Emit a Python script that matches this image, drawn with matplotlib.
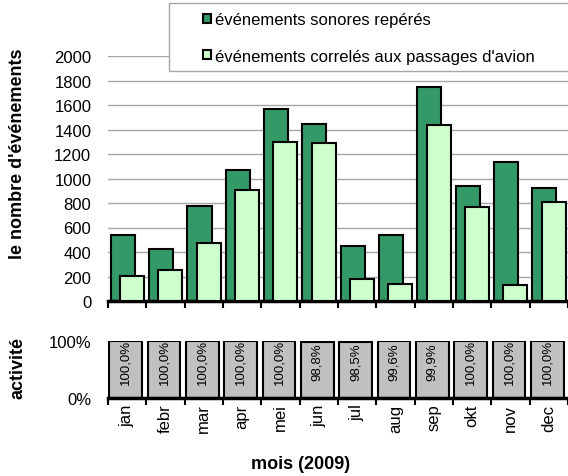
import numpy as np
import matplotlib
matplotlib.use('Agg')
from matplotlib import pyplot as plt
from matplotlib.patches import Rectangle

plt.rcParams['font.family'] = ['Liberation Sans', 'DejaVu Sans']

mois = ['jan', 'febr', 'mar', 'apr', 'mei', 'jun', 'jul', 'aug', 'sep', 'okt', 'nov', 'dec']
sonores = [535, 426, 779, 1072, 1566, 1447, 448, 535, 1751, 942, 1132, 920]
correles = [204, 252, 475, 909, 1297, 1289, 177, 141, 1436, 768, 133, 812]
activite = [100.0, 100.0, 100.0, 100.0, 100.0, 98.8, 98.5, 99.6, 99.9, 100.0, 100.0, 100.0]

W, H = 568, 477
fig = plt.figure(figsize=(W / 100, H / 100), dpi=100)

ax1 = fig.add_axes([108 / W, 1 - 302 / H, 460 / W, 245 / H])
ax2 = fig.add_axes([108 / W, 1 - 399 / H, 460 / W, 57 / H])

x = np.arange(len(mois))

# top chart
ax1.bar(x - 0.115, sonores, width=0.63, color='#339966', edgecolor='black', linewidth=1.5, zorder=2)
ax1.bar(x + 0.125, correles, width=0.63, color='#ccffcc', edgecolor='black', linewidth=1.5, zorder=3)
ax1.set_xlim(-0.5, 11.5)
ax1.set_ylim(0, 2000)
ax1.set_yticks(range(0, 2001, 200))
ax1.yaxis.grid(True, color='#a6a6a6', linewidth=1)
ax1.set_axisbelow(True)
ax1.set_xticks(np.arange(-0.5, 12, 1))
ax1.tick_params(axis='x', length=5, width=1.5, labelbottom=False)
ax1.tick_params(axis='y', length=0, pad=12, labelsize=12)
for s in ['top', 'right', 'left']:
    ax1.spines[s].set_visible(False)
ax1.spines['bottom'].set_linewidth(2.5)

# bottom chart
ax2.bar(x - 0.04, activite, width=0.85, color='#c0c0c0', edgecolor='black', linewidth=1.5)
for i, v in enumerate(activite):
    ax2.text(i - 0.04, 64, f"{v:.1f}%".replace('.', ','), rotation=90,
             ha='center', va='center', fontsize=9.5)
ax2.set_xlim(-0.5, 11.5)
ax2.set_ylim(0, 100)
ax2.set_yticks([0, 100])
ax2.set_yticklabels(['0%', '100%'])
ax2.set_xticks(np.arange(-0.5, 12, 1))
ax2.set_xticks(x, minor=True)
ax2.set_xticklabels([])
ax2.set_xticklabels(mois, minor=True, rotation=90)
ax2.tick_params(axis='x', which='major', length=5, width=1.5)
ax2.tick_params(axis='x', which='minor', length=0, pad=4, labelsize=12)
ax2.tick_params(axis='y', length=0, pad=12, labelsize=12)
for s in ['top', 'right', 'left']:
    ax2.spines[s].set_visible(False)
ax2.spines['bottom'].set_linewidth(2.5)

# legend box
fig.add_artist(Rectangle((169 / W, 1 - 72 / H), (600 - 169) / W, 68 / H,
                         transform=fig.transFigure, facecolor='white',
                         edgecolor='#a6a6a6', linewidth=1, zorder=4))
handles = [Rectangle((0, 0), 1, 1, facecolor='#339966', edgecolor='black', linewidth=1.5),
           Rectangle((0, 0), 1, 1, facecolor='#ccffcc', edgecolor='black', linewidth=1.5)]
fig.legend(handles, ['événements sonores repérés', "événements correlés aux passages d'avion"],
           loc='upper left', bbox_to_anchor=(203 / W, 1 - 13 / H), frameon=False,
           fontsize=12, handlelength=0.45, handleheight=0.45, handletextpad=0.25,
           labelspacing=1.3, borderpad=0, borderaxespad=0)

fig.text(18 / W, 1 - 154 / H, "le nombre d'événements", rotation=90, fontweight='bold',
         ha='center', va='center', fontsize=13)
fig.text(18 / W, 1 - 368 / H, 'activité', rotation=90, fontweight='bold',
         ha='center', va='center', fontsize=13)
fig.text(301 / W, 1 - 465 / H, 'mois (2009)', fontweight='bold',
         ha='center', va='center', fontsize=13)

fig.savefig('out.png', dpi=100)
